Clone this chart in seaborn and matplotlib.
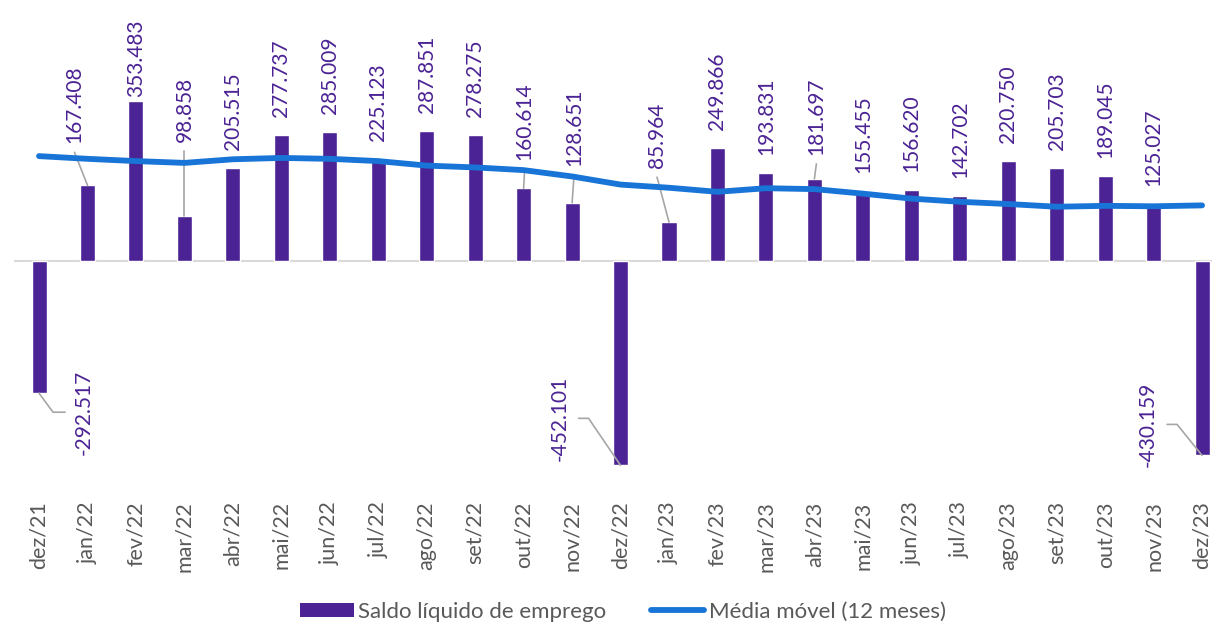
import numpy as np
import pandas as pd
import seaborn as sns
import matplotlib.pyplot as plt
from matplotlib.patches import Patch
from matplotlib.lines import Line2D
from matplotlib.transforms import IdentityTransform

# dados (mil empregos)
meses = ["dez/21", "jan/22", "fev/22", "mar/22", "abr/22", "mai/22", "jun/22",
         "jul/22", "ago/22", "set/22", "out/22", "nov/22", "dez/22", "jan/23",
         "fev/23", "mar/23", "abr/23", "mai/23", "jun/23", "jul/23", "ago/23",
         "set/23", "out/23", "nov/23", "dez/23"]
saldo = [-292.517, 167.408, 353.483, 98.858, 205.515, 277.737, 285.009,
         225.123, 287.851, 278.275, 160.614, 128.651, -452.101, 85.964,
         249.866, 193.831, 181.697, 155.455, 156.620, 142.702, 220.750,
         205.703, 189.045, 125.027, -430.159]
media_movel = [232, 226, 221, 217, 225, 228, 226, 221, 211, 207, 201, 187, 169,
               162, 153, 161, 159, 149, 138, 131, 126, 120, 122, 121, 123]

ROXO = "#4B2394"
AZUL = "#1874D6"
CINZA = "#595959"
GUIA = "#A6A6A6"

# ajustes de posicao dos rotulos (pixels): (deslocamento x, altura acima da barra)
rotulo_pos = {1: (-13, 42), 2: (0, 4), 3: (0, 74), 10: (1, 28),
              11: (2, 37), 13: (-12, 54), 16: (2, 24)}
com_guia = [1, 3, 10, 11, 13, 16]
# rotulos negativos: (dx texto, dy texto, dx cotovelo, lado)
rotulo_neg = {0: (45, 19, 14, 1), 12: (-61, -47, -32, -1), 24: (-54, -31, -25, -1)}


def main():
    sns.set_style("white")
    plt.rcParams["font.family"] = ["Lato", "DejaVu Sans"]

    df = pd.DataFrame({"mes": meses, "saldo": saldo, "media": media_movel})

    W, H = 1212, 625
    fig = plt.figure(figsize=(W / 100, H / 100), dpi=100)
    ax = fig.add_axes([14.8 / W, 1 - 475 / H, 1211.5 / W, 475 / H])

    sns.barplot(data=df, x="mes", y="saldo", color=ROXO, saturation=1,
                width=0.31, ax=ax, zorder=2)
    sns.lineplot(data=df, x="mes", y="media", color=AZUL, lw=4.2, sort=False,
                 ax=ax, zorder=3, solid_capstyle="round", legend=False)

    ax.set_xlim(-0.5, len(meses) - 0.5)
    ax.set_ylim(-473.5, 577.4)
    ax.set_xlabel("")
    ax.set_ylabel("")
    ax.set_yticks([])
    for s in ["top", "right", "left"]:
        ax.spines[s].set_visible(False)
    ax.spines["bottom"].set_position(("data", 0))
    ax.spines["bottom"].set_color("#D9D9D9")
    ax.spines["bottom"].set_linewidth(1.5)
    ax.spines["bottom"].set_zorder(1)

    ax.set_xticks(range(len(meses)))
    ax.set_xticklabels(meses, rotation=90, fontsize=15.5, color=CINZA)
    ax.set_xticks(np.arange(-0.5, len(meses), 1), minor=True)
    ax.tick_params(axis="x", which="major", length=0, pad=173)
    ax.tick_params(axis="x", which="minor", length=4.5, width=1.2,
                   color="#D9D9D9", direction="out")

    # rotulos de dados (em pixels de tela)
    fig.canvas.draw()
    ident = IdentityTransform()
    for i, v in enumerate(saldo):
        bx, by = ax.transData.transform((i, v))
        txt = f"{v:.3f}"
        if v >= 0:
            dx, lift = rotulo_pos.get(i, (0, 18))
            ax.text(bx + dx, by + lift, txt, transform=ident, rotation=90,
                    ha="center", va="bottom", fontsize=15, color=ROXO, zorder=5)
            if i in com_guia:
                ax.plot([bx, bx + dx], [by, by + lift - 9], transform=ident,
                        color=GUIA, lw=1.2, zorder=2.5)
        else:
            dx, dy, ex, lado = rotulo_neg[i]
            tx, ty = bx + dx, by - dy
            ax.text(tx, ty, txt, transform=ident, rotation=90, ha="center",
                    va="center", fontsize=15, color=ROXO, zorder=5)
            ax.plot([bx, bx + ex, tx - lado * 19], [by, by - dy, by - dy],
                    transform=ident, color=GUIA, lw=1.2, zorder=2.5)

    handles = [Patch(facecolor=ROXO, edgecolor="none"),
               Line2D([0], [0], color=AZUL, lw=4.2, solid_capstyle="round")]
    fig.legend(handles, ["Saldo líquido de emprego", "Média móvel (12 meses)"],
               loc="center", bbox_to_anchor=(0.514, 0.021), ncol=2,
               frameon=False, fontsize=16, labelcolor=CINZA, handlelength=2.4,
               handleheight=0.6, handletextpad=0.2, columnspacing=2.0)

    fig.savefig("out.png", dpi=100)


if __name__ == "__main__":
    main()
